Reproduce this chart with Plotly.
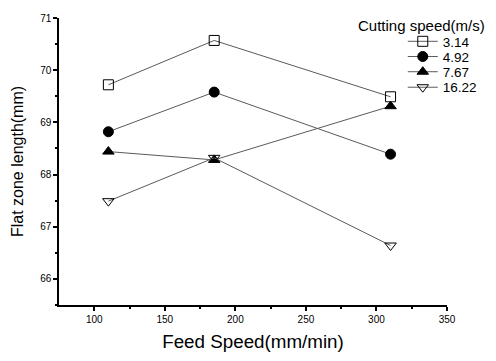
import plotly.graph_objects as go

feed_speed = [110, 185, 310]
series_names = ["3.14", "4.92", "7.67", "16.22"]
v_314 = [69.72, 70.57, 69.49]
v_492 = [68.82, 69.58, 68.39]
v_767 = [68.44, 68.28, 69.31]
v_1622 = [67.49, 68.32, 66.64]
x_ticks = [100, 150, 200, 250, 300, 350]
y_ticks = [66, 67, 68, 69, 70, 71]

series = [v_314, v_492, v_767, v_1622]
symbols = ["square-open", "circle", "triangle-up", "triangle-down-open"]
legend_ids = ["legend", "legend2", "legend3", "legend4"]
legend_y = [0.918, 0.865, 0.812, 0.758]

fig = go.Figure()
for name, vals, sym, lid in zip(series_names, series, symbols, legend_ids):
    fig.add_trace(go.Scatter(
        x=feed_speed, y=vals, name=name, mode="lines+markers",
        line=dict(color="#5a5a5a", width=1),
        marker=dict(symbol=sym, size=10, color="black",
                    line=dict(color="black", width=1)),
        legend=lid,
    ))

axis_font = dict(family="Liberation Sans, Arial", size=10, color="black")
layout_legends = {}
for lid, ly in zip(legend_ids, legend_y):
    layout_legends[lid] = dict(x=0.886, y=ly, xanchor="left", yanchor="middle",
                               bgcolor="rgba(0,0,0,0)", font=dict(size=13.5),
                               itemwidth=30)

fig.update_layout(
    width=496, height=361,
    margin=dict(l=59, r=49, t=12, b=54),
    paper_bgcolor="white", plot_bgcolor="white",
    font=dict(family="Liberation Sans, Arial", color="black"),
    xaxis=dict(
        range=[75, 350], tickvals=x_ticks, ticks="outside", ticklen=4,
        tickwidth=1.5, tickcolor="black", showline=True, linecolor="black",
        linewidth=1.5, showgrid=False, zeroline=False, tickfont=axis_font,
        minor=dict(tickvals=[125, 175, 225, 275, 325], ticks="outside",
                   ticklen=2, tickcolor="black"),
        title=dict(text="Feed Speed(mm/min)", font=dict(size=18.8), standoff=11),
    ),
    yaxis=dict(
        range=[65.5, 71], tickvals=y_ticks, ticks="outside", ticklen=4,
        tickwidth=1.5, tickcolor="black", showline=True, linecolor="black",
        linewidth=1.5, showgrid=False, zeroline=False, tickfont=axis_font,
        minor=dict(tickvals=[65.5, 66.5, 67.5, 68.5, 69.5, 70.5], ticks="outside",
                   ticklen=2, tickcolor="black"),
        title=dict(text="Flat zone length(mm)", font=dict(size=16), standoff=13),
    ),
    showlegend=True,
    **layout_legends,
)
fig.add_annotation(text="Cutting speed(m/s)", xref="paper", yref="paper",
                   x=1.103, y=0.975, xanchor="right", yanchor="middle",
                   showarrow=False, font=dict(size=15, color="black"))
fig.write_html("out.html")
